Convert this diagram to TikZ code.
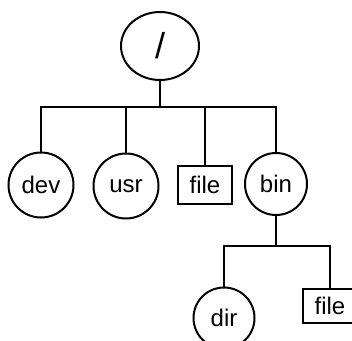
\documentclass[tikz,border=0pt]{standalone}
\usepackage{fontspec}
\setmainfont{Liberation Sans}
\usetikzlibrary{shapes.geometric}
\begin{document}
\begin{tikzpicture}[x=1pt,y=-1pt,line width=2pt,
  dirnode/.style={draw,circle,inner sep=0pt,font=\fontsize{24}{24}\selectfont},
  filenode/.style={draw,rectangle,inner sep=0pt,font=\fontsize{24}{24}\selectfont},
  link/.style={line width=2pt}]
\useasboundingbox (0,0) rectangle (352,340);
\clip (0,0) rectangle (352,340);
\node[draw,ellipse,minimum width=78pt,minimum height=68pt,inner sep=0pt,font=\fontsize{36}{36}\selectfont] (root) at (160,46) {/};
\node[dirnode,minimum size=65pt] (dev) at (41,185) {dev};
\node[dirnode,minimum size=65pt] (usr) at (126,186) {usr};
\node[filenode,minimum width=54pt,minimum height=38pt] (file1) at (205,185) {file};
\node[dirnode,minimum size=62pt] (bin) at (276,184) {bin};
\node[dirnode,minimum size=61pt] (dir) at (224,318) {dir};
\node[filenode,minimum width=54pt,minimum height=34pt] (file2) at (330,306) {file};
\coordinate (j1) at (160,107);
\coordinate (j2) at (276,246);
\draw[link] (root) -- (j1);
\draw[link] (j1) -| (dev);
\draw[link] (j1) -| (usr);
\draw[link] (j1) -| (file1);
\draw[link] (j1) -| (bin);
\draw[link] (bin) -- (j2);
\draw[link] (j2) -| (dir);
\draw[link] (j2) -| (file2);
\end{tikzpicture}
\end{document}
